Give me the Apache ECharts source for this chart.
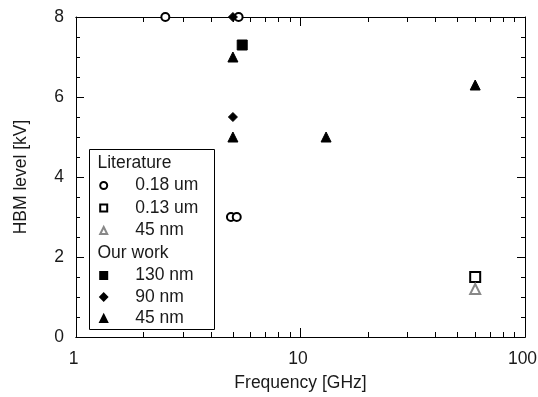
<!DOCTYPE html>
<html>
<head>
<meta charset="utf-8">
<script src="https://cdn.jsdelivr.net/npm/echarts@6/dist/echarts.min.js"></script>
<style>
  html, body { margin: 0; padding: 0; background: #fff; }
  #main { width: 538px; height: 397px; }
</style>
</head>
<body>
<div id="main"></div>
<script>
// data: [frequency GHz, HBM kV]
const lit018 = [[2.5, 8], [5.3, 8], [4.9, 3], [5.2, 3]]
const lit013 = [[60, 1.5]]
const lit45 = [[60, 1.2]]
const our130 = [[5.5, 7.3]]
const our90 = [[5, 8], [5, 5.5]]
const our45 = [[5, 7], [5, 5], [13, 5], [60, 6.3]]

const xMinorTicks = [2, 3, 4, 5, 6, 7, 8, 9, 20, 30, 40, 50, 60, 70, 80, 90]
const litNames = ['0.18 um', '0.13 um', '45 nm (lit)']
const ourNames = ['130 nm', '90 nm', '45 nm']

const font = 'Liberation Sans, Arial, sans-serif'
const fs = 17.5
const ink = '#1a1a1a'

const chart = echarts.init(document.getElementById('main'))

const xBase = {
  type: 'log', logBase: 10, min: 1, max: 100,
  gridIndex: 0,
  axisLine: { show: true, lineStyle: { color: '#000', width: 1 } },
  splitLine: { show: false }
}
const yBase = {
  type: 'value', min: 0, max: 8, interval: 2,
  axisLine: { show: true, lineStyle: { color: '#000', width: 1 } },
  splitLine: { show: false },
  minorTick: { show: true, splitNumber: 4, length: 4, lineStyle: { color: '#000' } },
  axisTick: { inside: true, length: 8, lineStyle: { color: '#000' } }
}

const scatter = (name, data, symbol, size, color) => ({
  name, type: 'scatter', data, symbol, symbolSize: size, clip: false,
  xAxisIndex: 0, yAxisIndex: 0,
  itemStyle: { color, borderColor: color, borderWidth: 1, opacity: 1 },
  emphasis: { disabled: true }
})

const legendCommon = {
  orient: 'vertical', left: 99.2, padding: 0, itemWidth: 7, itemHeight: 7,
  selectedMode: false,
  textStyle: { fontFamily: font, fontSize: fs, color: ink, lineHeight: 18, padding: [0, 0, 0, 23] },
  formatter: n => n.replace(' (lit)', '')
}

chart.setOption({
  animation: false,
  grid: { left: 76, right: 13, top: 17, bottom: 60, outerBoundsMode: 'none', containLabel: false },
  graphic: [
    { type: 'rect', z: 3, shape: { x: 89.5, y: 149.5, width: 125, height: 180 },
      style: { fill: '#fff', stroke: '#000', lineWidth: 1 } },
    { type: 'text', z: 5, left: 97.5, top: 154,
      style: { text: 'Literature', font: fs + 'px ' + font, fill: ink } },
    { type: 'text', z: 5, left: 97.5, top: 244,
      style: { text: 'Our work', font: fs + 'px ' + font, fill: ink } }
  ],
  legend: [
    Object.assign({ top: 176.5, itemGap: 4.5, data: litNames }, legendCommon),
    Object.assign({ top: 266.5, itemGap: 3.5, data: ourNames }, legendCommon)
  ],
  xAxis: [
    Object.assign({}, xBase, {
      position: 'bottom',
      name: 'Frequency [GHz]', nameLocation: 'middle', nameGap: 37,
      nameTextStyle: { fontFamily: font, fontSize: fs, color: ink },
      axisTick: { inside: true, length: 9, lineStyle: { color: '#000' } },
      axisLabel: { margin: 13, fontFamily: font, fontSize: fs, color: ink, padding: [0, 5, 0, 0] }
    }),
    Object.assign({}, xBase, {
      position: 'bottom',
      axisTick: { inside: true, length: 5, customValues: xMinorTicks, lineStyle: { color: '#000' } },
      axisLabel: { show: false }
    }),
    Object.assign({}, xBase, {
      position: 'top',
      axisTick: { inside: true, length: 9, lineStyle: { color: '#000' } },
      axisLabel: { show: false }
    }),
    Object.assign({}, xBase, {
      position: 'top',
      axisTick: { inside: true, length: 5, customValues: xMinorTicks, lineStyle: { color: '#000' } },
      axisLabel: { show: false }
    })
  ],
  yAxis: [
    Object.assign({}, yBase, {
      position: 'left',
      name: 'HBM level [kV]', nameLocation: 'middle', nameGap: 46,
      nameTextStyle: { fontFamily: font, fontSize: fs, color: ink },
      axisLabel: { margin: 12, fontFamily: font, fontSize: fs, color: ink }
    }),
    Object.assign({}, yBase, {
      position: 'right',
      axisLabel: { show: false }
    })
  ],
  series: [
    scatter('0.18 um', lit018, 'emptyCircle', 8, '#000'),
    scatter('0.13 um', lit013, 'emptyRect', 10, '#000'),
    scatter('45 nm (lit)', lit45, 'emptyTriangle', 10, '#888'),
    scatter('130 nm', our130, 'rect', 10, '#000'),
    scatter('90 nm', our90, 'diamond', 9, '#000'),
    scatter('45 nm', our45, 'triangle', 10, '#000')
  ]
})
</script>
</body>
</html>
